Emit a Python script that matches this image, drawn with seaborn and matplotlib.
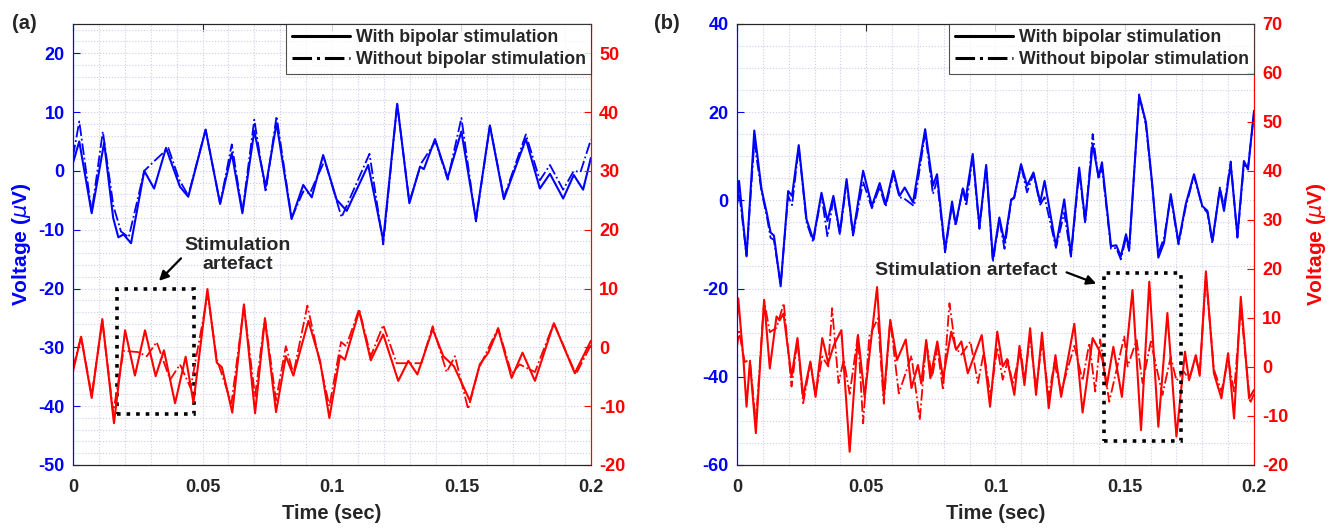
import numpy as np
import matplotlib
matplotlib.use("Agg")
import matplotlib.pyplot as plt
from matplotlib.lines import Line2D
from matplotlib.patches import Rectangle
from matplotlib.ticker import MultipleLocator
import seaborn as sns

# ---- panel (a): blue traces (left axis, uV) ----
a_blue_with_t = [0.0, 0.0024, 0.0072, 0.012, 0.0155, 0.0175, 0.0195, 0.0224, 0.0275, 0.0313, 0.0359, 0.0413,
                 0.0445, 0.0512, 0.0568, 0.0613, 0.0654, 0.070, 0.0744, 0.0786, 0.0844, 0.0889, 0.0922, 0.0966,
                 0.1018, 0.1057, 0.114, 0.1198, 0.1252, 0.1299, 0.134, 0.1355, 0.1398, 0.1447, 0.150, 0.1556,
                 0.161, 0.1664, 0.1749, 0.1803, 0.1842, 0.1893, 0.1934, 0.197, 0.2]
a_blue_with_v = [1.4, 5.0, -7.2, 4.8, -8.0, -11.3, -10.8, -12.3, 0.0, -3.0, 3.9, -2.7,
                 -4.4, 7.0, -5.6, 3.0, -7.2, 6.8, -2.7, 8.1, -8.2, -2.4, -4.5, 2.7,
                 -4.9, -6.8, 1.0, -11.8, 11.4, -5.5, 0.7, 0.3, 5.4, -1.2, 6.7, -8.3,
                 7.7, -4.8, 5.4, -3.0, -0.5, -4.7, -0.7, -3.2, 2.2]
a_blue_without_t = [0.0, 0.0024, 0.0072, 0.0115, 0.0156, 0.0185, 0.0215, 0.0275, 0.031, 0.0368, 0.041, 0.0445,
                    0.0512, 0.0568, 0.0613, 0.0654, 0.070, 0.0744, 0.0786, 0.0844, 0.0889, 0.0915, 0.0972,
                    0.1037, 0.1145, 0.1198, 0.1252, 0.1299, 0.1345, 0.140, 0.1447, 0.150, 0.1556, 0.161,
                    0.1664, 0.1749, 0.1803, 0.1842, 0.1893, 0.1934, 0.196, 0.2]
a_blue_without_v = [2.5, 8.4, -7.0, 6.7, -6.0, -10.3, -11.3, 0.0, 1.5, 3.9, -1.5, -4.2,
                    7.0, -5.6, 4.5, -7.0, 8.7, -3.6, 9.3, -8.0, -3.5, -3.8, 1.8,
                    -7.9, 2.9, -12.5, 11.4, -5.3, 1.3, 5.0, -1.5, 9.0, -8.6, 7.7,
                    -4.5, 6.2, -1.6, 1.0, -3.2, 0.0, -0.2, 5.3]

# ---- panel (a): red traces (right axis, uV) ----
a_red_with_t = [0.0, 0.0031, 0.0072, 0.0113, 0.0158, 0.0201, 0.0239, 0.0278, 0.0319, 0.0351, 0.0394, 0.0435,
                0.0465, 0.0519, 0.0555, 0.0575, 0.0615, 0.066, 0.0703, 0.0741, 0.0784, 0.0822, 0.0851, 0.0909,
                0.0954, 0.099, 0.1031, 0.105, 0.1105, 0.115, 0.1198, 0.1256, 0.1295, 0.133, 0.1389, 0.143,
                0.1471, 0.1533, 0.1571, 0.1604, 0.1642, 0.1694, 0.1736, 0.1784, 0.1857, 0.1938, 0.2]
a_red_with_v = [-4.0, 1.8, -8.6, 4.8, -12.9, 2.9, -4.8, 2.9, -4.9, -0.5, -9.5, -1.6,
                -9.4, 9.9, -2.6, -3.4, -11.1, 7.3, -11.2, 4.8, -11.0, -1.5, -4.8, 4.5,
                -2.3, -12.0, -1.4, -2.1, 6.2, -2.2, 2.2, -5.7, -2.3, -4.6, 3.1, -1.5,
                -3.2, -9.1, -2.9, -0.9, 3.1, -5.2, -0.9, -5.7, 4.1, -4.4, 1.1]
a_red_without_t = [0.0, 0.0031, 0.0072, 0.0113, 0.0155, 0.0195, 0.025, 0.0285, 0.0323, 0.0375, 0.0413, 0.0454,
                   0.052, 0.0555, 0.0612, 0.066, 0.0703, 0.0741, 0.0784, 0.0822, 0.0851, 0.0905, 0.099,
                   0.1035, 0.1055, 0.1105, 0.115, 0.1198, 0.125, 0.1345, 0.1389, 0.1443, 0.1475, 0.1526,
                   0.1568, 0.1642, 0.1694, 0.1725, 0.1784, 0.1857, 0.1942, 0.2]
a_red_without_v = [-3.5, 1.8, -8.2, 4.5, -11.0, -0.6, -0.8, -1.5, 0.9, -5.5, -2.9, -6.9,
                   9.0, -2.0, -9.5, 7.0, -8.3, 5.0, -9.0, 0.2, -4.5, 7.1, -10.0,
                   0.9, 0.2, 6.5, -1.5, 3.8, -2.7, -2.7, 3.6, -4.2, -1.5, -10.5,
                   -3.5, 3.3, -4.5, -2.9, -4.2, 4.1, -4.6, 0.4]

# ---- panel (b): blue traces (left axis, uV) ----
b_blue_with_t = [0.0, 0.0008, 0.0037, 0.0067, 0.0095, 0.0115, 0.013, 0.0143, 0.0169, 0.0198, 0.0213, 0.0239,
                 0.0269, 0.0295, 0.0327, 0.035, 0.0373, 0.0398, 0.0424, 0.0449, 0.0488, 0.0522, 0.0552,
                 0.0575, 0.0605, 0.0629, 0.0649, 0.0681, 0.0728, 0.0758, 0.0774, 0.0805, 0.0832, 0.0846,
                 0.0874, 0.0884, 0.0912, 0.0938, 0.0964, 0.099, 0.1015, 0.1035, 0.1061, 0.1072, 0.1099,
                 0.1122, 0.1147, 0.1173, 0.119, 0.1234, 0.1266, 0.1292, 0.1324, 0.1347, 0.1376, 0.1399,
                 0.1412, 0.1447, 0.1467, 0.1485, 0.1505, 0.1517, 0.1556, 0.1582, 0.1607, 0.163, 0.1652,
                 0.1678, 0.1708, 0.1736, 0.1768, 0.18, 0.182, 0.1839, 0.1868, 0.1884, 0.191, 0.1936,
                 0.1961, 0.1977, 0.2]
b_blue_with_v = [-0.5, 4.4, -12.7, 15.8, 2.5, -2.8, -7.3, -8.0, -19.5, 2.1, 1.0, 12.5,
                 -4.3, -8.9, 1.7, -4.7, 1.0, -7.3, 4.8, -7.7, 6.7, -1.3, 3.9,
                 -0.9, 6.7, 1.0, 2.9, -0.5, 16.1, 3.3, 5.9, -11.3, -0.3, -5.4,
                 2.7, 0.0, 10.5, -6.0, 8.0, -13.3, -3.9, -9.6, 0.2, 0.6, 8.2,
                 3.3, 6.3, -0.5, 4.4, -10.4, 0.2, -12.3, 7.4, -4.7, 12.7, 5.2,
                 8.6, -10.4, -10.2, -12.7, -7.7, -11.1, 23.7, 17.7, 3.3, -13.0, -9.6,
                 1.4, -9.6, -0.9, 5.9, -1.3, -2.4, -9.2, 2.5, -2.4, 8.2, -8.1,
                 8.9, 7.0, 20.3]
b_blue_without_t = [0.0, 0.0008, 0.0037, 0.0067, 0.0095, 0.0115, 0.013, 0.0143, 0.0169, 0.0198, 0.0213, 0.0239,
                    0.0269, 0.0295, 0.0327, 0.035, 0.0373, 0.0398, 0.0424, 0.0449, 0.0488, 0.0522, 0.0552,
                    0.0575, 0.0605, 0.0629, 0.0642, 0.0685, 0.0728, 0.0758, 0.0774, 0.0805, 0.0832, 0.0846,
                    0.0874, 0.0887, 0.0912, 0.0938, 0.0964, 0.099, 0.1015, 0.1035, 0.1061, 0.1072, 0.1099,
                    0.1122, 0.1147, 0.1173, 0.119, 0.1234, 0.1266, 0.1292, 0.1324, 0.1347, 0.1376, 0.1399,
                    0.1412, 0.1447, 0.1467, 0.1485, 0.1505, 0.1517, 0.1556, 0.1582, 0.1607, 0.163, 0.1652,
                    0.1678, 0.1708, 0.1736, 0.1768, 0.18, 0.182, 0.1839, 0.1868, 0.1884, 0.191, 0.1936,
                    0.1961, 0.1977, 0.2]
b_blue_without_v = [-1.2, 2.1, -12.5, 13.1, 2.0, -3.5, -8.5, -9.0, -19.0, 1.0, -1.1, 12.0,
                    -5.0, -9.5, 1.2, -8.3, 0.5, -7.8, 4.0, -8.0, 4.2, -1.8, 3.0,
                    -1.5, 5.9, 0.6, 0.6, -1.3, 15.3, 1.4, 4.5, -11.8, -1.0, -5.8,
                    2.9, -1.3, 10.0, -6.5, 7.8, -14.0, -4.5, -11.0, 0.0, 0.5, 7.8,
                    1.8, 6.0, -1.0, 0.7, -10.8, -2.8, -12.8, 6.5, -5.2, 15.0, 4.8,
                    7.5, -11.0, -10.8, -13.4, -8.5, -11.5, 24.0, 17.0, 3.0, -12.0, -8.5,
                    0.8, -10.0, -1.5, 5.5, -1.5, -2.8, -9.8, 2.9, -1.5, 8.8, -8.5,
                    8.0, 7.5, 19.5]

# ---- panel (b): red traces (right axis, uV) ----
b_red_with_t = [0.0, 0.0005, 0.0025, 0.0037, 0.005, 0.0073, 0.0105, 0.0127, 0.0153, 0.0165, 0.018, 0.0211,
                0.0234, 0.0256, 0.0284, 0.0304, 0.033, 0.0353, 0.0375, 0.0404, 0.0436, 0.0468, 0.0494,
                0.0542, 0.0568, 0.0593, 0.0619, 0.0653, 0.0675, 0.070, 0.0713, 0.0732, 0.0748, 0.0775,
                0.0797, 0.0829, 0.0848, 0.0868, 0.0893, 0.0947, 0.0979, 0.1007, 0.1028, 0.1045, 0.1073,
                0.1093, 0.1112, 0.1134, 0.1157, 0.118, 0.1206, 0.1232, 0.1254, 0.1305, 0.1337, 0.1376,
                0.1402, 0.1414, 0.143, 0.1456, 0.1489, 0.153, 0.1563, 0.1595, 0.163, 0.1665, 0.170,
                0.1733, 0.1749, 0.1775, 0.179, 0.1814, 0.1845, 0.1874, 0.19, 0.1923, 0.1949, 0.1981, 0.2]
b_red_with_v = [10.0, 14.0, 1.5, -8.1, 1.1, -13.5, 13.7, -0.3, 10.3, 9.5, 10.9, -2.0,
                5.9, -6.1, 1.1, -6.1, 5.9, 0.8, 4.5, 7.5, -17.3, 6.5, -6.1,
                16.3, -6.1, 9.6, 1.4, 5.6, -4.3, 0.4, -3.4, 5.5, -2.3, 5.2,
                -2.3, 7.2, 3.5, 5.2, -1.3, 6.5, -8.1, 7.2, 0.1, 1.6, -5.7,
                4.3, -3.7, 7.9, -5.7, 7.0, -8.4, 2.4, -6.1, 8.8, -9.3, 5.9,
                3.3, 1.4, -4.0, 4.1, -6.1, 15.7, -12.9, 17.4, -12.2, 11.0, -14.2,
                3.1, -2.7, 2.4, -1.8, 19.5, -1.3, -6.4, 2.8, -10.5, 14.3, -6.4, -4.7]
b_red_without_t = [0.0, 0.0008, 0.003, 0.005, 0.0073, 0.0105, 0.0127, 0.0153, 0.0181, 0.0211, 0.0234, 0.0256,
                   0.0284, 0.0304, 0.033, 0.0353, 0.0368, 0.0393, 0.0413, 0.0436, 0.0468, 0.0488, 0.0512,
                   0.0545, 0.0568, 0.0593, 0.0626, 0.0675, 0.0707, 0.0732, 0.0755, 0.0775, 0.0797, 0.0822,
                   0.0845, 0.0868, 0.0903, 0.0932, 0.0955, 0.0981, 0.1007, 0.1028, 0.1048, 0.1067, 0.1097,
                   0.1112, 0.1134, 0.1157, 0.118, 0.1206, 0.1228, 0.1254, 0.1305, 0.1337, 0.1363, 0.1386,
                   0.1405, 0.144, 0.1498, 0.1511, 0.1546, 0.1569, 0.1601, 0.1646, 0.1678, 0.170, 0.1728,
                   0.1749, 0.1775, 0.179, 0.1814, 0.1845, 0.1874, 0.19, 0.1923, 0.1949, 0.1985, 0.2]
b_red_without_v = [4.0, 7.2, 1.0, 1.5, -11.5, 13.5, 7.1, 8.0, 13.0, -4.0, 5.5, -7.4,
                   0.8, -5.5, 2.1, 0.1, 12.0, -3.3, 1.5, -5.5, 6.5, -11.5, 6.3,
                   9.9, -7.5, 9.6, -5.4, 2.3, -10.8, 5.0, -2.0, 4.0, -4.7, 13.0,
                   4.0, 2.5, 5.2, -3.3, 3.0, -6.0, 4.0, -2.6, 1.4, -3.5, 3.5,
                   -2.5, 6.0, -4.5, 5.0, -6.0, 0.8, -5.0, 4.3, -2.8, 4.9, -5.0,
                   5.6, -7.1, 6.2, 0.1, 5.5, -3.3, 5.2, -5.7, 2.1, -2.8, -0.9,
                   -2.5, 2.0, -1.5, 18.5, -0.5, -5.0, 1.5, -5.0, 12.0, -7.4, -5.5]

legend_labels = ["With bipolar stimulation", "Without bipolar stimulation"]

BLUE = "#0000ff"
RED = "#ff0000"
GRID = "#cdcde8"
DARK = "#262626"


def style_axes(ax, ax2, ylim_l, ylim_r, major_l, minor_l, major_r):
    ax.set_xlim(0, 0.2)
    ax.set_ylim(*ylim_l)
    ax2.set_ylim(*ylim_r)
    ax.xaxis.set_major_locator(MultipleLocator(0.05))
    ax.xaxis.set_minor_locator(MultipleLocator(0.01))
    ax.yaxis.set_major_locator(MultipleLocator(major_l))
    ax.yaxis.set_minor_locator(MultipleLocator(minor_l))
    ax2.yaxis.set_major_locator(MultipleLocator(major_r))
    ax.set_xticks([0, 0.05, 0.1, 0.15, 0.2])
    ax.set_xticklabels(["0", "0.05", "0.1", "0.15", "0.2"])
    ax.grid(which="both", linestyle=":", color=GRID, linewidth=0.8)
    ax.set_axisbelow(True)
    ax.tick_params(axis="x", which="major", direction="in", length=5, top=True, colors=DARK,
                   labelsize=13, pad=10)
    ax.tick_params(axis="x", which="minor", length=0)
    ax.tick_params(axis="y", which="major", direction="in", length=5, colors=BLUE, labelsize=13, pad=6)
    ax.tick_params(axis="y", which="minor", length=0)
    ax2.tick_params(axis="y", which="major", direction="in", length=5, colors=RED, labelsize=13, pad=6)
    for lab in ax.get_xticklabels() + ax.get_yticklabels() + ax2.get_yticklabels():
        lab.set_fontweight("bold")
    for a in (ax, ax2):
        a.spines["left"].set_color(BLUE)
        a.spines["right"].set_color(RED)
        a.spines["top"].set_color(DARK)
        a.spines["bottom"].set_color(DARK)
        for s in a.spines.values():
            s.set_linewidth(0.8)
    ax.set_xlabel("Time (sec)", fontsize=14.5, fontweight="bold", color=DARK, labelpad=6)


def draw_pair(ax, t1, v1, t2, v2, color):
    sns.lineplot(x=t1, y=v1, ax=ax, color=color, linewidth=1.5, estimator=None, sort=False)
    sns.lineplot(x=t2, y=v2, ax=ax, color=color, linewidth=1.3, linestyle="-.",
                 estimator=None, sort=False)
    ax.set_xlabel("")
    ax.set_ylabel("")


def add_legend(ax):
    handles = [Line2D([], [], color="black", linewidth=2.2, linestyle="-"),
               Line2D([], [], color="black", linewidth=2.2, linestyle="-.")]
    leg = ax.legend(handles, legend_labels, loc="upper right", borderaxespad=0,
                    prop={"weight": "bold", "size": 12.8}, frameon=True, fancybox=False,
                    handlelength=3.3, handletextpad=0.3, borderpad=0.3, labelspacing=0.3)
    leg.get_frame().set_edgecolor(DARK)
    leg.get_frame().set_linewidth(0.8)
    leg.set_zorder(10)


sns.set_style("white")
plt.rcParams["font.family"] = ["Liberation Sans", "DejaVu Sans"]
plt.rcParams["mathtext.fontset"] = "dejavusans"
plt.rcParams["axes.unicode_minus"] = False

fig = plt.figure(figsize=(13.38, 5.29), dpi=100)

# panel (a)
ax_a = fig.add_axes([0.0546, 0.121, 0.387, 0.834])
ax_a2 = ax_a.twinx()
draw_pair(ax_a, a_blue_with_t, a_blue_with_v, a_blue_without_t, a_blue_without_v, BLUE)
draw_pair(ax_a2, a_red_with_t, a_red_with_v, a_red_without_t, a_red_without_v, RED)
style_axes(ax_a, ax_a2, (-50, 25), (-20, 55), 10, 2, 10)
ax_a.set_ylabel("Voltage ($\\mu$V)", fontsize=15, fontweight="bold", color=BLUE, labelpad=4)
add_legend(ax_a2)
ax_a.add_patch(Rectangle((0.017, -41.3), 0.0297, 21.3, fill=False, edgecolor="black",
                         linestyle=":", linewidth=2.6, zorder=6))
ax_a.annotate("Stimulation\nartefact", xy=(0.0332, -18.7), xytext=(0.0635, -14.3),
              ha="center", va="center", fontsize=14, fontweight="bold", linespacing=1.1,
              arrowprops=dict(arrowstyle="-|>", color="black", lw=1.6, mutation_scale=14,
                              shrinkA=0, shrinkB=0, relpos=(0.0, 0.5)), zorder=7)

# panel (b)
ax_b = fig.add_axes([0.5508, 0.121, 0.3864, 0.834])
ax_b2 = ax_b.twinx()
draw_pair(ax_b, b_blue_with_t, b_blue_with_v, b_blue_without_t, b_blue_without_v, BLUE)
draw_pair(ax_b2, b_red_with_t, b_red_with_v, b_red_without_t, b_red_without_v, RED)
style_axes(ax_b, ax_b2, (-60, 40), (-20, 70), 20, 5, 10)
ax_b2.set_ylabel("Voltage ($\\mu$V)", fontsize=15, fontweight="bold", color=RED, labelpad=12)
add_legend(ax_b2)
ax_b2.add_patch(Rectangle((0.1421, -15.1), 0.0297, 34.3, fill=False, edgecolor="black",
                          linestyle=":", linewidth=2.6, zorder=6))
ax_b2.annotate("", xy=(0.139, 17.0), xytext=(0.1275, 19.3),
               arrowprops=dict(arrowstyle="-|>", color="black", lw=1.6, mutation_scale=14,
                               shrinkA=0, shrinkB=0), zorder=7)
ax_b2.text(0.0888, 19.6, "Stimulation artefact", ha="center", va="center", fontsize=14,
           fontweight="bold", zorder=7)

fig.text(0.009, 0.955, "(a)", fontsize=14.5, fontweight="bold", ha="left", va="center")
fig.text(0.489, 0.955, "(b)", fontsize=14.5, fontweight="bold", ha="left", va="center")

fig.savefig("out.png", dpi=100)
